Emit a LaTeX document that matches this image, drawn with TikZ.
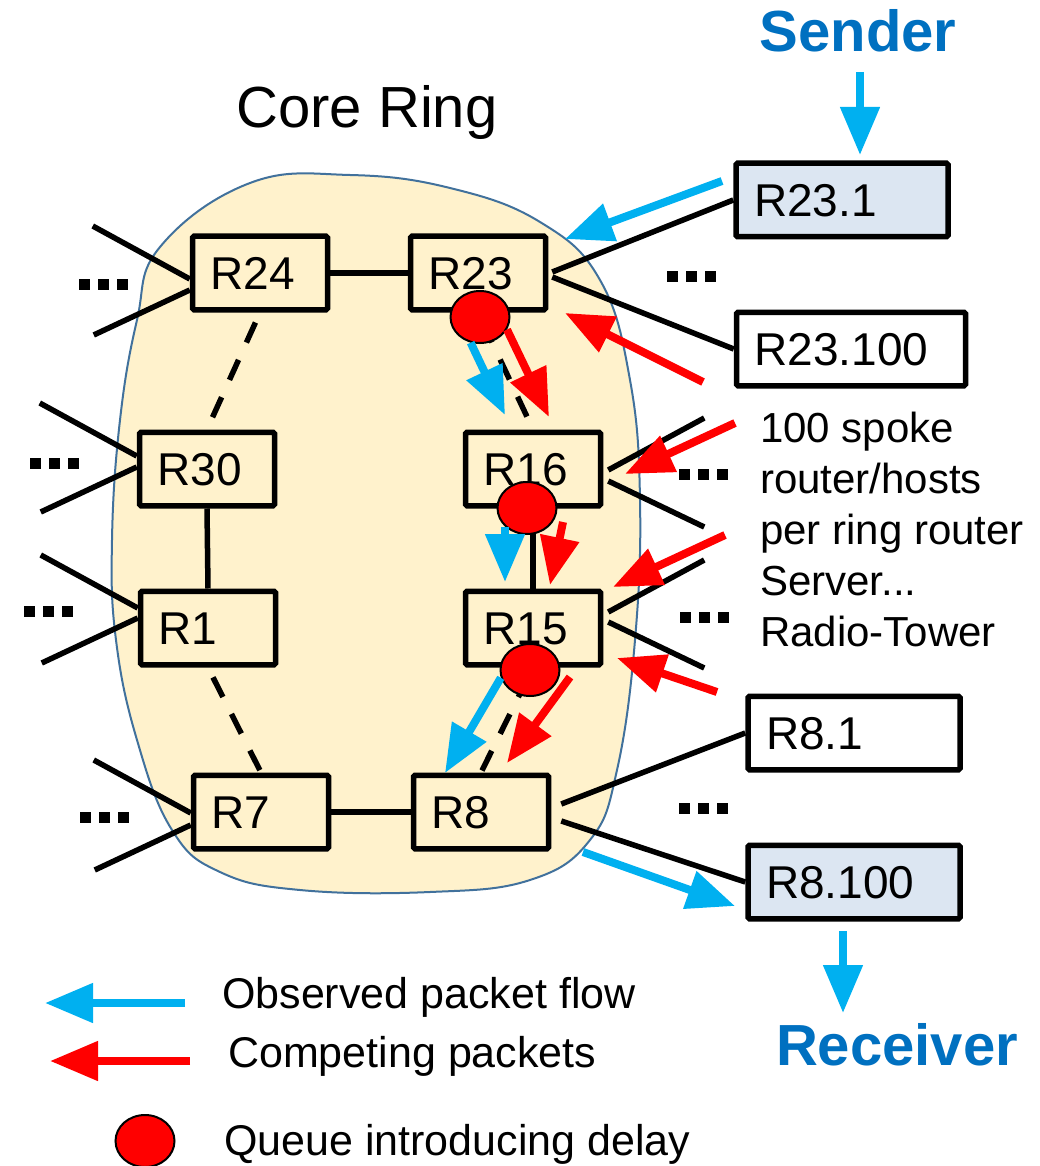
\documentclass[tikz,border=0pt]{standalone}
\usepackage{fontspec}
\setmainfont{Liberation Sans}
\usetikzlibrary{arrows.meta,shapes.geometric}

\definecolor{ringfill}{HTML}{FFF2CC}
\definecolor{ringline}{HTML}{41719C}
\definecolor{hostfill}{HTML}{DCE6F2}
\definecolor{flowblue}{HTML}{00B0F0}
\definecolor{flowred}{HTML}{FF0000}
\definecolor{labelblue}{HTML}{0070C0}

\tikzset{
  router/.style={draw, line width=5.5pt, fill=ringfill, rounded corners=1.5pt,
    minimum height=73.5pt, inner xsep=18pt, text width=99pt, align=left,
    text height=33pt, text depth=0pt, font=\fontsize{46}{55}\selectfont},
  host/.style={router, fill=white, text width=176pt},
  link/.style={line width=5.5pt},
  backup/.style={link, dash pattern=on 22pt off 19pt, dash phase=30pt},
  flow/.style={line width=8pt, draw=flowblue, -{Triangle[width=38pt,length=48pt]}},
  compete/.style={flow, draw=flowred},
  queue/.style={ellipse, draw, line width=2pt, fill=flowred,
    minimum width=59pt, minimum height=52pt, inner sep=0pt},
  keytext/.style={anchor=base west, inner sep=0pt, font=\fontsize{43}{52}\selectfont},
  dotrow/.pic={\foreach \d in {-19,0,19} \fill (\d-5.5,-5.5) rectangle ++(11,11);}
}

\begin{document}
\begin{tikzpicture}[x=1pt, y=-1pt]
    \useasboundingbox (0,0) rectangle (1039,1166);

    % the core ring area
    \draw[ringline, line width=2pt, fill=ringfill] plot[smooth cycle, tension=0.7] coordinates {
        (160,247) (250,183) (350,175) (450,188) (540,222) (600,280) (630,380)
        (640,500) (635,640) (617,770) (590,840) (530,880) (430,892) (300,890)
        (220,872) (172,830) (137,740) (116,640) (112,540) (120,420) (137,320)};
    \node[anchor=base, inner sep=0pt, font=\fontsize{58}{70}\selectfont] (title) at (367,128) {Core Ring};

    % ring routers
    \node[router] (r24) at (260,273) {R24};
    \node[router] (r23) at (478,273) {R23};
    \node[router] (r30) at (207,469) {R30};
    \node[router] (r16) at (533,469) {R16};
    \node[router] (r1) at (208,628) {R1};
    \node[router] (r15) at (533,628) {R15};
    \node[router] (r7) at (261,812) {R7};
    \node[router] (r8) at (481,812) {R8};

    % spoke hosts
    \node[host, fill=hostfill] (h231) at (842,200) {R23.1};
    \node[host, text width=193pt] (h23100) at (851,349) {R23.100};
    \node[host] (h81) at (854,733) {R8.1};
    \node[host, fill=hostfill] (h8100) at (854,882) {R8.100};

    \node[anchor=base, inner sep=0pt, text=labelblue, font=\bfseries\fontsize{58}{70}\selectfont] (sender) at (858,52) {Sender};
    \node[anchor=base, inner sep=0pt, text=labelblue, font=\bfseries\fontsize{58}{70}\selectfont] (receiver) at (897,1065) {Receiver};
    \node[anchor=north west, inner sep=0pt, align=left, font=\fontsize{42}{51}\selectfont] (spokes) at (760,412)
        {100 spoke\\router/hosts\\per ring router\\Server...\\Radio-Tower};

    % ring links
    \draw[link] (r24.east) -- (r23.west);
    \draw[link] (r7.east) -- (r8.west);
    \draw[link] (r30.south) -- (r1.north);
    \draw[link] (r16.south) -- (r15.north);
    \draw[backup] (r24.south) -- (r30.north);
    \draw[backup] (r1.south) -- (r7.north);
    \draw[backup] (r23.south) -- (r16.north);
    \draw[backup] (r15.south) -- (r8.north);

    % spokes
    \foreach \r/\up/\lo in {r24/-6/-17, r30/13/2, r1/20/10, r7/-1/-13} {
        \draw[link] ([yshift=\up]\r.west) -- ++(-97,-53);
        \draw[link] ([yshift=\lo]\r.west) -- ++(-96,45);
    }
    \foreach \r/\up/\lo in {r16/-1/-12, r15/16/6} {
        \draw[link] ([xshift=5, yshift=\up]\r.east) -- ++(96,-52);
        \draw[link] ([xshift=5, yshift=\lo]\r.east) -- ++(96,46);
    }
    \draw[link] ([xshift=4, yshift=1]r23.east) -- (h231.west);
    \draw[link] ([xshift=4, yshift=-4]r23.east) -- (h23100.west);
    \draw[link] ([xshift=10, yshift=8]r8.east) -- (h81.west);
    \draw[link] ([xshift=10, yshift=-9]r8.east) -- (h8100.west);

    \pic at (103,284) {dotrow};
    \pic at (54,463) {dotrow};
    \pic at (48,611) {dotrow};
    \pic at (104,817) {dotrow};
    \pic at (691,276) {dotrow};
    \pic at (703,474) {dotrow};
    \pic at (704,617) {dotrow};
    \pic at (703,808) {dotrow};

    % queues
    \node[queue] (q23) at (480,317) {};
    \node[queue] (q16) at (527,508) {};
    \node[queue] (q15) at (530,670) {};

    % observed packets
    \coordinate (b1s) at (860,72);   \coordinate (b1e) at (860,155);
    \coordinate (b2s) at (722,181);  \coordinate (b2e) at (565,239);
    \coordinate (b3e) at (505,415);
    \coordinate (b4s) at (505,527);  \coordinate (b4e) at (505,582);
    \coordinate (b5e) at (445,773);
    \coordinate (b6s) at (583,852);  \coordinate (b6e) at (735,906);
    \coordinate (b7s) at (843,931);  \coordinate (b7e) at (843,1013);
    \draw[flow] (b1s) -- (b1e);
    \draw[flow] (b2s) -- (b2e);
    \draw[flow] (q23.250) -- (b3e);
    \draw[flow] (b4s) -- (b4e);
    \draw[flow] (q15.195) -- (b5e);
    \draw[flow] (b6s) -- (b6e);
    \draw[flow] (b7s) -- (b7e);

    % competing packets
    \coordinate (c1s) at (703,382);  \coordinate (c1e) at (565,313);
    \coordinate (c2e) at (549,417);
    \coordinate (c3s) at (735,423);  \coordinate (c3e) at (625,474);
    \coordinate (c4s) at (563,522);  \coordinate (c4e) at (550,585);
    \coordinate (c5s) at (725,535);  \coordinate (c5e) at (613,587);
    \coordinate (c6s) at (717,692);  \coordinate (c6e) at (617,658);
    \coordinate (c7s) at (570,677);  \coordinate (c7e) at (507,763);
    \draw[compete] (c1s) -- (c1e);
    \draw[compete] (q23.-25) -- (c2e);
    \draw[compete] (c3s) -- (c3e);
    \draw[compete] (c4s) -- (c4e);
    \draw[compete] (c5s) -- (c5e);
    \draw[compete] (c6s) -- (c6e);
    \draw[compete] (c7s) -- (c7e);

    % legend
    \coordinate (k1s) at (185,1003); \coordinate (k1e) at (45,1003);
    \coordinate (k2s) at (190,1061); \coordinate (k2e) at (50,1061);
    \draw[flow] (k1s) -- (k1e);
    \draw[compete] (k2s) -- (k2e);
    \node[queue] (kq) at (145,1141) {};
    \node[keytext] (kflow) at (222,1008) {Observed packet flow};
    \node[keytext] (kcomp) at (228,1067) {Competing packets};
    \node[keytext] (kqueue) at (224,1155) {Queue introducing delay};
\end{tikzpicture}
\end{document}
